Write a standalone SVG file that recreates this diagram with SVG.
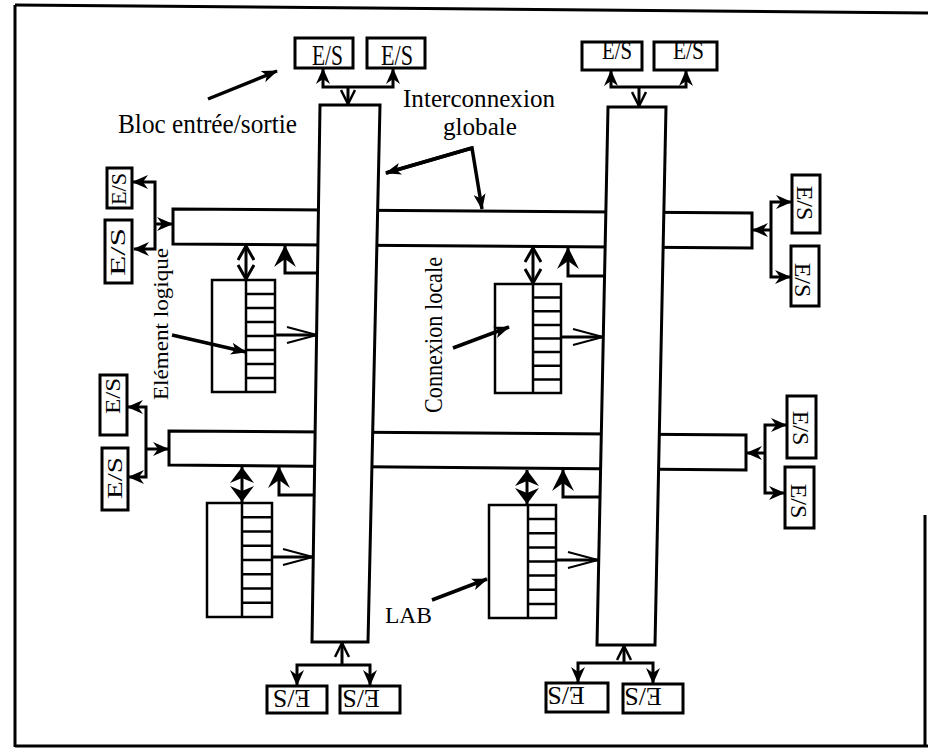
<svg xmlns="http://www.w3.org/2000/svg" width="928" height="749" viewBox="0 0 928 749">
<style>
.bx{fill:#fff;stroke:#000;stroke-width:3}
.bar{fill:#fff;stroke:#000;stroke-width:3;stroke-linejoin:miter}
.lab{fill:#fff;stroke:#000;stroke-width:2.5}
.cell{fill:none;stroke:#000;stroke-width:2.5}
.ln{fill:none;stroke:#000;stroke-width:3}
.la{fill:none;stroke:#000;stroke-width:3.5}
.fr{fill:none;stroke:#000;stroke-width:3}
.t{font-family:"Liberation Serif","Times New Roman",serif;fill:#000}
</style>
<defs>
<marker id="ah" viewBox="0 0 16 16" refX="15" refY="8" markerWidth="16" markerHeight="16" markerUnits="userSpaceOnUse" orient="auto-start-reverse"><path d="M0,1 L16,8 L0,15 L5,8 Z" fill="#000"/></marker>
<marker id="op" viewBox="0 0 16 16" refX="15" refY="8" markerWidth="16" markerHeight="16" markerUnits="userSpaceOnUse" orient="auto-start-reverse"><path d="M1,1 L15,8 L1,15" fill="none" stroke="#000" stroke-width="2.5"/></marker>
<marker id="op2" viewBox="0 0 16 18" refX="15" refY="9" markerWidth="16" markerHeight="18" markerUnits="userSpaceOnUse" orient="auto-start-reverse"><path d="M1,1 L15,9 L1,17" fill="none" stroke="#000" stroke-width="3"/></marker>
<marker id="lg" viewBox="0 0 32 18" refX="31" refY="9" markerWidth="32" markerHeight="18" markerUnits="userSpaceOnUse" orient="auto"><path d="M1,1 L31,9 L1,17 M9,9 L31,9" fill="none" stroke="#000" stroke-width="2"/></marker>
<marker id="bg" viewBox="0 0 22 24" refX="21" refY="12" markerWidth="22" markerHeight="24" markerUnits="userSpaceOnUse" orient="auto"><path d="M0,1 L22,12 L0,23 L8,12 Z" fill="#000"/></marker>
<marker id="dm" viewBox="0 0 16 24" refX="16" refY="12" markerWidth="16" markerHeight="24" markerUnits="userSpaceOnUse" orient="auto-start-reverse"><path d="M0,0 L16,12 L0,24 L5,12 Z" fill="#000"/></marker>
<marker id="lh" viewBox="0 0 16 12" refX="15" refY="6" markerWidth="16" markerHeight="12" markerUnits="userSpaceOnUse" orient="auto"><path d="M0,0 L16,6 L0,12 L4,6 Z" fill="#000"/></marker>
</defs>

<g id="frame">
<path class="fr" d="M15,5 V747"/>
<path class="fr" d="M15,5 L928,13"/>
<path class="fr" d="M15,746 H928"/>
<path class="fr" d="M925,515 V747"/>
</g>

<g id="row-top"><path class="bar" d="M173,209 L752,213 L752,248 L173,244 Z"/></g>
<g id="row-bottom"><path class="bar" d="M169,431 L746,435 L746,470 L169,465 Z"/></g>
<g id="col-left"><path class="bar" d="M320,105 L380,105 L368,642 L312,642 Z"/></g>
<g id="col-right"><path class="bar" d="M608,107 L666,107 L655,645 L597,645 Z"/></g>

<g id="lab-tl">
<rect class="lab" x="212" y="280" width="63" height="112"/>
<path class="cell" d="M246,280 V392 M246,294 H275 M246,308 H275 M246,322 H275 M246,336 H275 M246,350 H275 M246,364 H275 M246,378 H275"/>
</g>
<g id="lab-tr">
<rect class="lab" x="495" y="284" width="66" height="109"/>
<path class="cell" d="M533,284 V393 M533,297.6 H561 M533,311.3 H561 M533,324.9 H561 M533,338.5 H561 M533,352.1 H561 M533,365.8 H561 M533,379.4 H561"/>
</g>
<g id="lab-bl">
<rect class="lab" x="207" y="503" width="65" height="114"/>
<path class="cell" d="M242,503 V617 M242,517.3 H272 M242,531.5 H272 M242,545.8 H272 M242,560 H272 M242,574.3 H272 M242,588.5 H272 M242,602.8 H272"/>
</g>
<g id="lab-br">
<rect class="lab" x="489" y="505" width="67" height="113"/>
<path class="cell" d="M528,505 V618 M528,519.1 H556 M528,533.3 H556 M528,547.4 H556 M528,561.5 H556 M528,575.6 H556 M528,589.8 H556 M528,603.9 H556"/>
</g>

<g id="es-top-1"><rect class="bx" x="295" y="38" width="58" height="30"/><text class="t" x="312" y="65" font-size="30" textLength="31" lengthAdjust="spacingAndGlyphs">E/S</text></g>
<g id="es-top-2"><rect class="bx" x="367" y="38" width="58" height="30"/><text class="t" x="381" y="65" font-size="30" textLength="32" lengthAdjust="spacingAndGlyphs">E/S</text></g>
<g id="es-top-3"><rect class="bx" x="582" y="42" width="60" height="28"/><text class="t" x="602" y="59" font-size="25" textLength="30" lengthAdjust="spacingAndGlyphs">E/S</text></g>
<g id="es-top-4"><rect class="bx" x="654" y="42" width="63" height="28"/><text class="t" x="673" y="59" font-size="25" textLength="31" lengthAdjust="spacingAndGlyphs">E/S</text></g>

<g id="es-bot-1"><rect class="bx" x="267" y="686" width="60" height="27"/><text class="t" x="291.5" y="707.6" font-size="26" text-anchor="middle" transform="rotate(180 291.5 699)">E/S</text></g>
<g id="es-bot-2"><rect class="bx" x="340" y="686" width="60" height="27"/><text class="t" x="361" y="707.6" font-size="26" text-anchor="middle" transform="rotate(180 361 699)">E/S</text></g>
<g id="es-bot-3"><rect class="bx" x="546" y="683" width="62" height="29"/><text class="t" x="566" y="704.6" font-size="26" text-anchor="middle" transform="rotate(180 566 696)">E/S</text></g>
<g id="es-bot-4"><rect class="bx" x="623" y="684" width="60" height="29"/><text class="t" x="643" y="705.6" font-size="26" text-anchor="middle" transform="rotate(180 643 697)">E/S</text></g>

<g id="es-left-1"><rect class="bx" x="107" y="168" width="25" height="40"/><text class="t" x="119" y="196.3" font-size="22" text-anchor="middle" textLength="32" lengthAdjust="spacingAndGlyphs" transform="rotate(-90 119 189)">E/S</text></g>
<g id="es-left-2"><rect class="bx" x="105" y="220" width="27" height="63"/><text class="t" x="118" y="259.3" font-size="22" text-anchor="middle" textLength="48" lengthAdjust="spacingAndGlyphs" transform="rotate(-90 118 252)">E/S</text></g>
<g id="es-left-3"><rect class="bx" x="100" y="375" width="27" height="60"/><text class="t" x="113" y="403.3" font-size="22" text-anchor="middle" textLength="36" lengthAdjust="spacingAndGlyphs" transform="rotate(-90 113 396)">E/S</text></g>
<g id="es-left-4"><rect class="bx" x="102" y="448" width="26" height="62"/><text class="t" x="115" y="485.3" font-size="22" text-anchor="middle" textLength="42" lengthAdjust="spacingAndGlyphs" transform="rotate(-90 115 478)">E/S</text></g>

<g id="es-right-1"><rect class="bx" x="792" y="175" width="28" height="58"/><text class="t" x="805" y="211" font-size="24" text-anchor="middle" transform="rotate(90 805 203)">E/S</text></g>
<g id="es-right-2"><rect class="bx" x="791" y="246" width="28" height="60"/><text class="t" x="803" y="288" font-size="24" text-anchor="middle" transform="rotate(90 803 280)">E/S</text></g>
<g id="es-right-3"><rect class="bx" x="787" y="396" width="29" height="62"/><text class="t" x="801" y="436" font-size="24" text-anchor="middle" transform="rotate(90 801 428)">E/S</text></g>
<g id="es-right-4"><rect class="bx" x="785" y="467" width="29" height="61"/><text class="t" x="799" y="509" font-size="24" text-anchor="middle" transform="rotate(90 799 501)">E/S</text></g>

<g id="connectors">
<path class="ln" d="M323,69 V87 H393 V69" marker-start="url(#ah)" marker-end="url(#ah)"/>
<path class="ln" d="M348,87 V104" marker-end="url(#op)"/>
<path class="ln" d="M611,71 V87 H686 V71" marker-start="url(#ah)" marker-end="url(#ah)"/>
<path class="ln" d="M639,87 V106" marker-end="url(#op)"/>
<path class="ln" d="M297,685 V665 H370 V685" marker-start="url(#ah)" marker-end="url(#ah)"/>
<path class="ln" d="M342,665 V643" marker-end="url(#op)"/>
<path class="ln" d="M578,682 V663 H653 V683" marker-start="url(#ah)" marker-end="url(#ah)"/>
<path class="ln" d="M624,663 V646" marker-end="url(#op)"/>
<path class="ln" d="M133,182 H155 V249 H134" marker-start="url(#ah)" marker-end="url(#ah)"/>
<path class="ln" d="M155,224 H172" marker-end="url(#ah)"/>
<path class="ln" d="M128,407 H146 V477 H129" marker-start="url(#ah)" marker-end="url(#ah)"/>
<path class="ln" d="M146,449 H168" marker-end="url(#ah)"/>
<path class="ln" d="M791,202 H771 V277 H790" marker-start="url(#ah)" marker-end="url(#ah)"/>
<path class="ln" d="M771,230 H753" marker-end="url(#ah)"/>
<path class="ln" d="M786,425 H765 V493 H784" marker-start="url(#ah)" marker-end="url(#ah)"/>
<path class="ln" d="M765,453 H747" marker-end="url(#ah)"/>
<path class="ln" d="M246,246 V279" marker-start="url(#op2)" marker-end="url(#op2)"/>
<path class="ln" d="M533,248 V283" marker-start="url(#op2)" marker-end="url(#op2)"/>
<path class="ln" d="M242,467 V502" marker-start="url(#dm)" marker-end="url(#dm)"/>
<path class="ln" d="M527,470 V504" marker-start="url(#dm)" marker-end="url(#dm)"/>
<path class="ln" d="M318,273 H285 V246" marker-end="url(#bg)"/>
<path class="ln" d="M605,276 H568 V248" marker-end="url(#bg)"/>
<path class="ln" d="M314,495 H279 V467" marker-end="url(#bg)"/>
<path class="ln" d="M600,497 H563 V470" marker-end="url(#bg)"/>
<path class="ln" d="M275,335 H317" stroke-width="2" marker-end="url(#lg)"/>
<path class="ln" d="M561,337 H603" stroke-width="2" marker-end="url(#lg)"/>
<path class="ln" d="M272,557 H313" stroke-width="2" marker-end="url(#lg)"/>
<path class="ln" d="M556,560 H598" stroke-width="2" marker-end="url(#lg)"/>
<path class="la" d="M208,99 L277,71" marker-end="url(#lh)"/>
<path class="la" d="M386,173 L472,148 L482,209" marker-end="url(#lh)"/>
<path class="la" d="M472,148 L386,173" marker-end="url(#lh)"/>
<path class="la" d="M172,335 L246,352" marker-end="url(#lh)"/>
<path class="la" d="M453,348 L509,327" marker-end="url(#lh)"/>
<path class="la" d="M432,600 L487,579" marker-end="url(#lh)"/>
</g>

<g id="labels">
<text class="t" x="118" y="133" font-size="28" textLength="179" lengthAdjust="spacingAndGlyphs">Bloc entrée/sortie</text>
<text class="t" x="403" y="107" font-size="26" textLength="152" lengthAdjust="spacingAndGlyphs">Interconnexion</text>
<text class="t" x="443" y="135" font-size="26" textLength="74" lengthAdjust="spacingAndGlyphs">globale</text>
<text class="t" x="168" y="400" font-size="22" textLength="152" lengthAdjust="spacingAndGlyphs" transform="rotate(-90 168 400)">Elément logique</text>
<text class="t" x="442" y="413" font-size="25" textLength="156" lengthAdjust="spacingAndGlyphs" transform="rotate(-90 442 413)">Connexion locale</text>
<text class="t" x="385" y="623" font-size="23" textLength="47" lengthAdjust="spacingAndGlyphs">LAB</text>
</g>
</svg>
